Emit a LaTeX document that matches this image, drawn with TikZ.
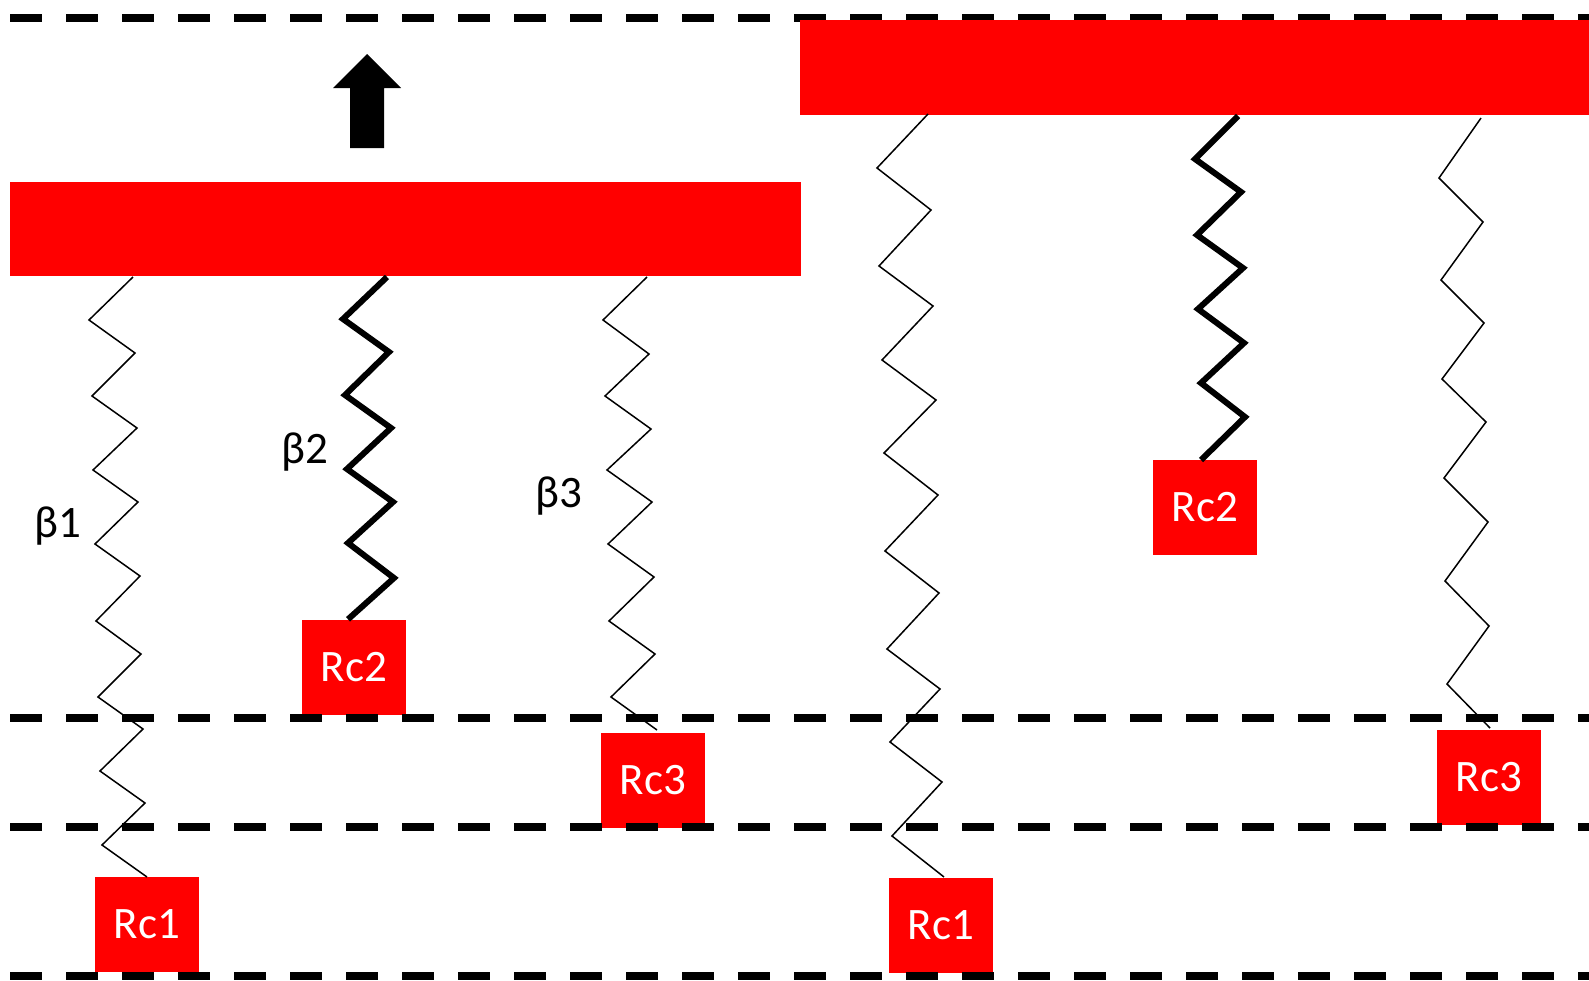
\documentclass[tikz,border=0pt]{standalone}
\usepackage{fontspec}
\setmainfont{Carlito}
\begin{document}
\begin{tikzpicture}[x=1pt,y=-1pt,
  bar/.style={fill=red,draw=none,inner sep=0pt},
  box/.style={fill=red,draw=none,inner sep=0pt,minimum width=104pt,minimum height=95pt,text=white,font=\fontsize{45}{54}\selectfont},
  lbl/.style={inner sep=0pt,anchor=base west,font=\fontsize{45}{54}\selectfont},
  guide/.style={line width=7.5pt,dash pattern=on 32pt off 24pt},
  thin/.style={line width=1.5pt,line join=miter},
  thick/.style={line width=6pt,line join=miter}]
\clip (0,0) rectangle (1589,980);
\fill[white] (0,0) rectangle (1589,980);
% boxes
\node[box] (rc1L) at (147,924.5) {Rc1};
\node[box] (rc2L) at (354,667) {Rc2};
\node[box] (rc3L) at (653,780.5) {Rc3};
\node[box] (rc1R) at (941,925) {Rc1};
\node[box] (rc2R) at (1205,507) {Rc2};
\node[box] (rc3R) at (1489,777.5) {Rc3};
% dashed guide lines
\coordinate (g1a) at (10,18);   \coordinate (g1b) at (1610,18);
\coordinate (g2a) at (10,718);  \coordinate (g2b) at (1610,718);
\coordinate (g3a) at (10,827);  \coordinate (g3b) at (1610,827);
\coordinate (g4a) at (10,976);  \coordinate (g4b) at (1610,976);
\draw[guide] (g1a) -- (g1b);
\draw[guide] (g2a) -- (g2b);
\draw[guide] (g3a) -- (g3b);
\draw[guide] (g4a) -- (g4b);
% bars
\node[bar,minimum width=791pt,minimum height=94pt] (barL) at (405.5,229) {};
\node[bar,minimum width=800pt,minimum height=95pt] (barR) at (1200,67.5) {};
% arrow
\fill (350,148) -- (384,148) -- (384,88) -- (401,88) -- (367,54) -- (333,88) -- (350,88) -- cycle;
% left springs
\draw[thin] (133,277) -- (89,320) -- (135,353) -- (92,396) -- (137,428) -- (93,470) -- (138,502) -- (95,544) -- (140,576) -- (96,621) -- (141,654) -- (98,697) -- (143,729) -- (100,771) -- (145,803) -- (102,845) -- (147,877);
\draw[thick] (387,277) -- (343,319) -- (389,352) -- (345,395) -- (391,428) -- (347,469) -- (393,502) -- (348,543) -- (394,578) -- (rc2L.north -| 348,0);
\draw[thin] (647,277) -- (603,320) -- (649,354) -- (605,396) -- (651,429) -- (607,470) -- (652,502) -- (608,544) -- (654,577) -- (609,621) -- (655,654) -- (611,697) -- (657,730);
% right springs
\draw[thin] (928,114) -- (877,168) -- (931,210) -- (879,266) -- (933,306) -- (882,360) -- (936,400) -- (884,453) -- (938,495) -- (885,551) -- (939,593) -- (887,649) -- (940,689) -- (890,742) -- (942,782) -- (892,836) -- (944,877);
\draw[thick] (1238,116) -- (1195,159) -- (1241,192) -- (1197,235) -- (1243,268) -- (1198,309) -- (1244,343) -- (1201,383) -- (1245,417) -- (1201,460);
\draw[thin] (1481,118) -- (1439,178) -- (1483,222) -- (1441,280) -- (1484,323) -- (1442,379) -- (1486,422) -- (1444,478) -- (1488,522) -- (1445,581) -- (1489,626) -- (1447,684) -- (1490,728);
% labels
\node[lbl] (b1) at (34,537) {β1};
\node[lbl] (b2) at (281,463) {β2};
\node[lbl] (b3) at (535,507) {β3};
\end{tikzpicture}
\end{document}
